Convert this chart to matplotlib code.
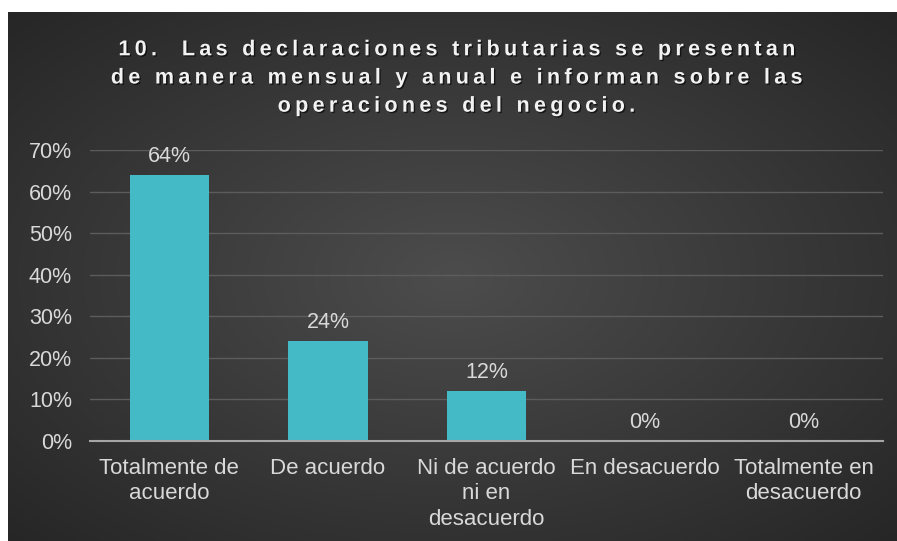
import matplotlib.pyplot as plt
import matplotlib.patheffects as pe
import numpy as np

categories = ["Totalmente de\nacuerdo", "De acuerdo", "Ni de acuerdo\nni en\ndesacuerdo",
              "En desacuerdo", "Totalmente en\ndesacuerdo"]
values = [0.64, 0.24, 0.12, 0.0, 0.0]
labels = ["64%", "24%", "12%", "0%", "0%"]
yticks = [0, 0.1, 0.2, 0.3, 0.4, 0.5, 0.6, 0.7]
title_lines = ["10.  Las declaraciones tributarias se presentan",
               "de manera mensual y anual e informan sobre las",
               "operaciones del negocio."]

plt.rcParams['font.family'] = ['Liberation Sans', 'DejaVu Sans']
txt = '#d9d9d9'

fig = plt.figure(figsize=(8.97, 5.41), dpi=100)
fig.patch.set_facecolor('white')

# dark radial gradient background
bg = fig.add_axes([8 / 897, 0, 1 - 8 / 897, 1 - 12 / 541])
yy, xx = np.mgrid[-1:1:300j, -1:1:500j]
r = np.sqrt(xx ** 2 + yy ** 2) / np.sqrt(2)
shade = 0.30 - 0.15 * r
img = np.dstack([shade, shade, shade])
bg.imshow(img, aspect='auto', extent=[0, 1, 0, 1])
bg.axis('off')

ax = fig.add_axes([90 / 897, 1 - 441 / 541, (883 - 90) / 897, (441 - 150) / 541])
ax.set_facecolor('none')
x = np.arange(len(categories))
bars = ax.bar(x, values, width=0.5, color='#44bac6', zorder=3)

ax.set_xlim(-0.5, len(categories) - 0.5)
ax.set_ylim(0, 0.7)
ax.set_yticks(yticks)
ax.set_yticklabels([f"{int(round(v * 100))}%" for v in yticks], color=txt, fontsize=15.5)
ax.set_xticks(x)
ax.set_xticklabels(categories, color=txt, fontsize=16, linespacing=1.3)
ax.tick_params(length=0)
ax.tick_params(axis='y', pad=13)
ax.tick_params(axis='x', pad=12)
ax.grid(axis='y', color='#5c5c5c', linewidth=1)
ax.set_axisbelow(True)
for s in ['top', 'right', 'left']:
    ax.spines[s].set_visible(False)
ax.spines['bottom'].set_color('#a6a6a6')
ax.spines['bottom'].set_linewidth(1.5)
ax.spines['bottom'].set_zorder(4)

for xi, v, lab in zip(x, values, labels):
    ax.annotate(lab, (xi, v), xytext=(0, 6), textcoords='offset points',
                ha='center', va='bottom', color=txt, fontsize=15.5)

# title with wide letter spacing (thin spaces between characters)
title = "\n".join("\u2009".join(line) for line in title_lines)
fig.text(456 / 897, 1 - 78 / 541, title, ha='center', va='center', color='#f2f2f2',
         fontsize=15.5, fontweight='bold', linespacing=1.45,
         path_effects=[pe.withSimplePatchShadow(offset=(1, -1), shadow_rgbFace='black', alpha=0.6)])

fig.savefig('out.png', dpi=100)
